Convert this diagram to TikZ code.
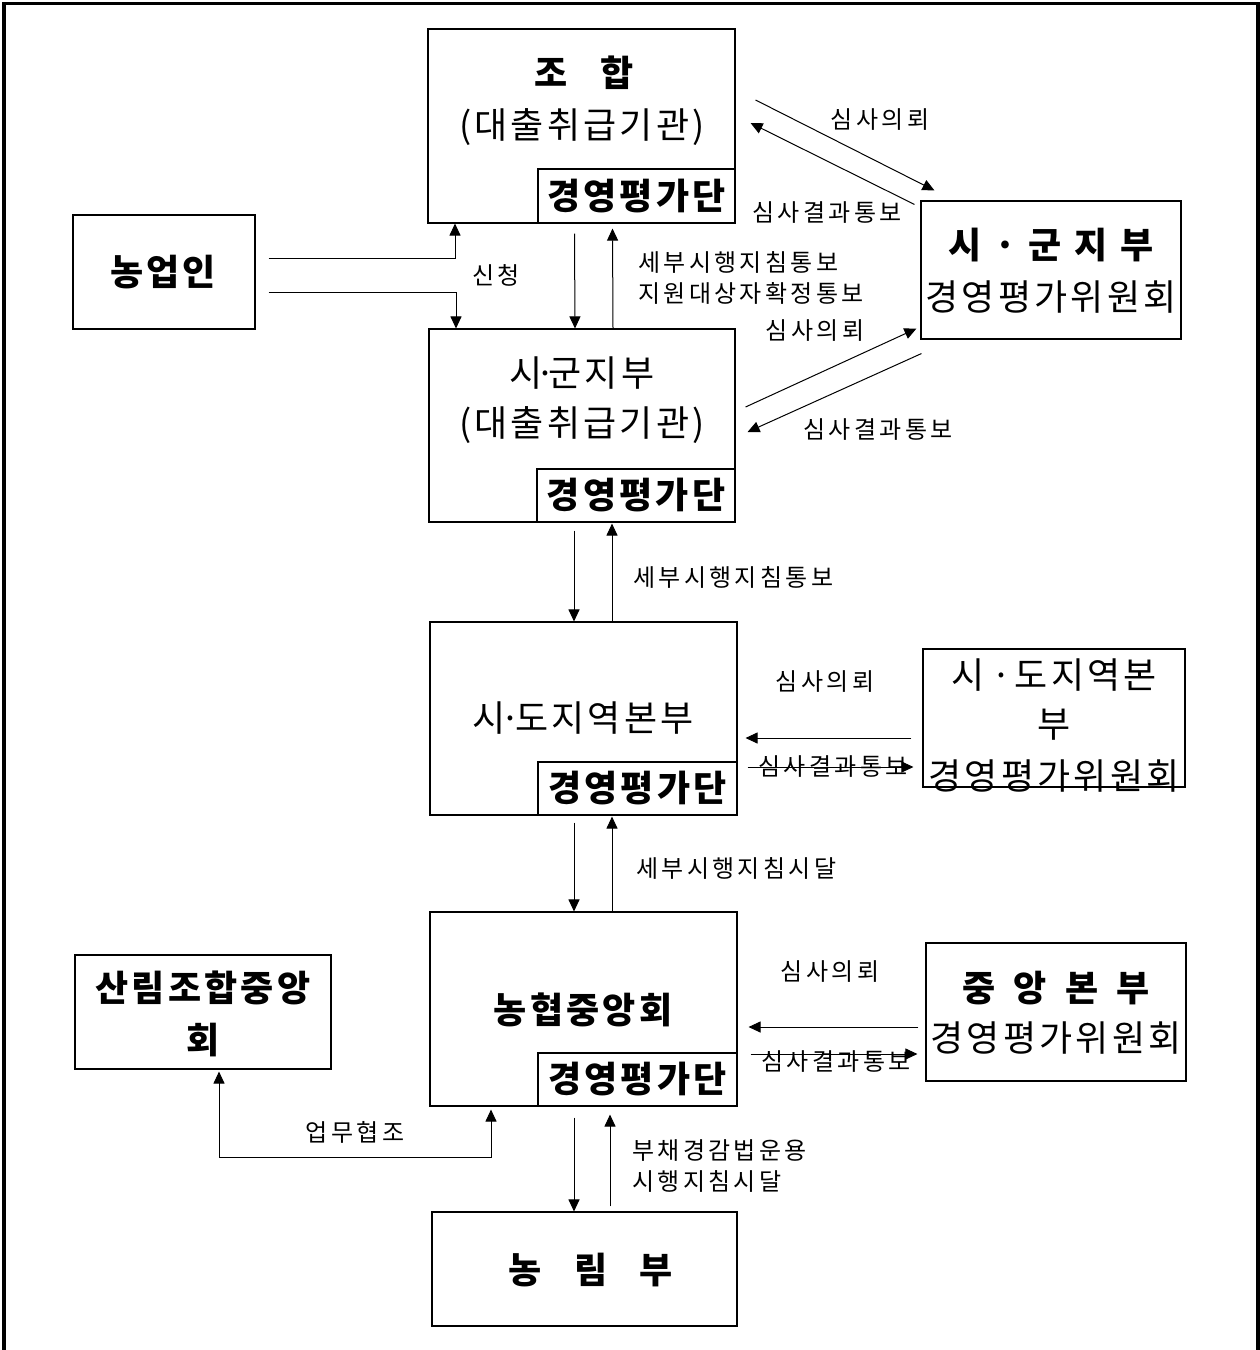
\documentclass[tikz,border=0pt]{standalone}
\usepackage{fontspec}
\setmainfont{Noto Sans CJK KR}[LetterSpace=9]
\newfontfamily\lblfont{Noto Sans CJK KR}[LetterSpace=14]
\usetikzlibrary{arrows.meta,calc}
\tikzset{
  box/.style={draw, line width=1.1pt, inner sep=0pt},
  inbox/.style={box, fill=white, font=\fontsize{36}{40}\selectfont\bfseries},
  big/.style={inner sep=0pt, font=\fontsize{36}{40}\selectfont},
  bigb/.style={inner sep=0pt, font=\fontsize{36}{40}\selectfont\bfseries},
  lbl/.style={inner sep=0pt, font=\lblfont\fontsize{24}{28}\selectfont},
  arr/.style={line width=1pt, -{Triangle[length=12pt,width=11pt]}},
  arrb/.style={line width=1pt, {Triangle[length=12pt,width=11pt]}-{Triangle[length=12pt,width=11pt]}},
}
\begin{document}
\begin{tikzpicture}[x=1pt,y=-1pt]
\useasboundingbox (0,0) rectangle (1260,1350);
\fill[white] (0,0) rectangle (1260,1350);
% outer frame
\draw[line width=3.6pt] (3.7,1360) -- (3.7,3.5) -- (1258,3.5) -- (1258,1360);

% boxes
\node[box, minimum width=307pt, minimum height=194pt] (johap) at (581.5,126) {};
\node[inbox, minimum width=197pt, minimum height=54pt] (johapIn) at (636.5,196) {경영평가단};
\node[box, minimum width=182pt, minimum height=114pt] (farmer) at (164,272) {};
\node[box, minimum width=260pt, minimum height=138pt] (sgc) at (1051,270) {};
\node[box, minimum width=306pt, minimum height=193pt] (sg) at (582,425.5) {};
\node[inbox, minimum width=198pt, minimum height=53pt] (sgIn) at (636,495.5) {경영평가단};
\node[box, minimum width=307pt, minimum height=193pt] (sd) at (583.5,718.5) {};
\node[inbox, minimum width=199pt, minimum height=53pt] (sdIn) at (637.5,788.5) {경영평가단};
\node[box, minimum width=262pt, minimum height=138pt] (sdc) at (1054,718) {};
\node[box, minimum width=307pt, minimum height=194pt] (nh) at (583.5,1009) {};
\node[inbox, minimum width=199pt, minimum height=53pt] (nhIn) at (637.5,1079.5) {경영평가단};
\node[box, minimum width=260pt, minimum height=138pt] (cc) at (1056,1012) {};
\node[box, minimum width=256pt, minimum height=114pt] (sr) at (203,1012) {};
\node[box, minimum width=305pt, minimum height=114pt] (nr) at (584.5,1269) {};

% box texts
\node[bigb] (t1) at (584,73) {조\hspace{0.9em}합};
\node[big] (t2) at (582,127) {(대출취급기관)};
\node[bigb] (t3) at (163,272) {농업인};
\node[bigb] (t4) at (1051,245) {시\hspace{0.35em}·\hspace{0.35em}군\hspace{0.35em}지\hspace{0.35em}부};
\node[big] (t5) at (1051,297) {경영평가위원회};
\node[big] (t6) at (582,373) {시\hspace{-0.2em}·\hspace{-0.2em}군지부};
\node[big] (t7) at (582,425) {(대출취급기관)};
\node[big] (t8) at (583,718) {시\hspace{-0.15em}·\hspace{-0.15em}도지역본부};
\node[big] (t9) at (1054,675) {시\hspace{0.2em}·도지역본};
\node[big] (t10) at (1054,725) {부};
\node[big] (t11) at (1054,776) {경영평가위원회};
\node[bigb] (t12) at (583,1010) {농협중앙회};
\node[bigb] (t13) at (1056,988) {중\hspace{0.5em}앙\hspace{0.5em}본\hspace{0.5em}부};
\node[big] (t14) at (1056,1038) {경영평가위원회};
\node[bigb] (t15) at (203,988) {산림조합중앙};
\node[bigb] (t16) at (203,1040) {회};
\node[bigb] (t17) at (591,1270) {농\hspace{0.9em}림\hspace{0.9em}부};

% farmer -> johap / sg
\draw[arr] ([xshift=13pt,yshift=14pt]farmer.east) -| ([xshift=-126.5pt]johap.south);
\draw[arr] ([xshift=13pt,yshift=-20pt]farmer.east) -| ([xshift=-126pt]sg.north);
\node[lbl] (l1) at (496,275) {신청};

% johap <-> sg
\draw[arr] ([xshift=-7pt,yshift=-10pt]johap.south) -- ([xshift=-7pt]sg.north);
\draw[arr] ([xshift=31pt]sg.north) -- ([xshift=31pt,yshift=-5pt]johap.south);
\node[lbl, anchor=west] (l2) at (638,262) {세부시행지침통보};
\node[lbl, anchor=west] (l3) at (638,293) {지원대상자확정통보};

% johap <-> sgc
\draw[arr] ([xshift=20pt,yshift=26pt]johap.east) -- ([xshift=14pt,yshift=10pt]sgc.north west);
\draw[arr] ([xshift=-6pt,yshift=-4pt]sgc.north west) -- ([xshift=15pt,yshift=3pt]johap.east);
\node[lbl] (l4) at (880,120) {심사의뢰};
\node[lbl, fill=white, inner sep=1pt] (l5) at (827,213) {심사결과통보};

% sg <-> sgc
\draw[arr] ([xshift=10pt,yshift=18.5pt]sg.east) -- ([xshift=-4pt,yshift=11pt]sgc.south west);
\draw[arr] ([xshift=1pt,yshift=-14pt]sgc.south west) -- ([xshift=12pt,yshift=-6.5pt]sg.east);
\node[lbl] (l6) at (815,331) {심사의뢰};
\node[lbl] (l7) at (878,430) {심사결과통보};

% sg <-> sd
\draw[arr] ([xshift=-8pt,yshift=-8pt]sg.south) -- ([xshift=-9.5pt]sd.north);
\draw[arr] ([xshift=28.5pt]sd.north) -- ([xshift=30pt,yshift=-1pt]sg.south);
\node[lbl, anchor=west] (l8) at (633,577) {세부시행지침통보};

% sd <-> sdc
\draw[arr] ([xshift=-11pt,yshift=-20pt]sdc.west) -- ([xshift=8pt,yshift=-19.5pt]sd.east);
\node[lbl] (l9) at (825,682) {심사의뢰};
\node[lbl] (l10) at (833,766) {심사결과통보};
\draw[arr] ([xshift=10pt,yshift=-48.5pt]sd.east) -- ([xshift=-9pt,yshift=-49pt]sdc.west);

% sd <-> nh
\draw[arr] ([xshift=-9.5pt,yshift=-7pt]sd.south) -- ([xshift=-9.5pt]nh.north);
\draw[arr] ([xshift=28.5pt]nh.north) -- ([xshift=28.5pt,yshift=-1pt]sd.south);
\node[lbl, anchor=west] (l11) at (636,868) {세부시행지침시달};

% nh <-> cc
\draw[arr] ([xshift=-7pt,yshift=-15pt]cc.west) -- ([xshift=11pt,yshift=-18pt]nh.east);
\node[lbl] (l12) at (830,972) {심사의뢰};
\node[lbl] (l13) at (836,1061) {심사결과통보};
\draw[arr] ([xshift=13pt,yshift=-45pt]nh.east) -- ([xshift=-8pt,yshift=-42pt]cc.west);

% nh <-> sr
\coordinate (bend) at ($(nh.south)+(-92.5,51)$);
\draw[arrb] ([xshift=16pt,yshift=-2pt]sr.south) |- (bend) -- ([xshift=-92.5pt,yshift=-3pt]nh.south);
\node[lbl] (l14) at (355,1132) {업무협조};

% nh <-> nr
\draw[arr] ([xshift=-9.5pt,yshift=-11pt]nh.south) -- ([xshift=-10.5pt]nr.north);
\draw[arr] ([xshift=25.5pt,yshift=5pt]nr.north) -- ([xshift=26.5pt,yshift=-8pt]nh.south);
\node[lbl, anchor=west] (l15) at (632,1150) {부채경감법운용};
\node[lbl, anchor=west] (l16) at (632,1181) {시행지침시달};
\end{tikzpicture}
\end{document}
